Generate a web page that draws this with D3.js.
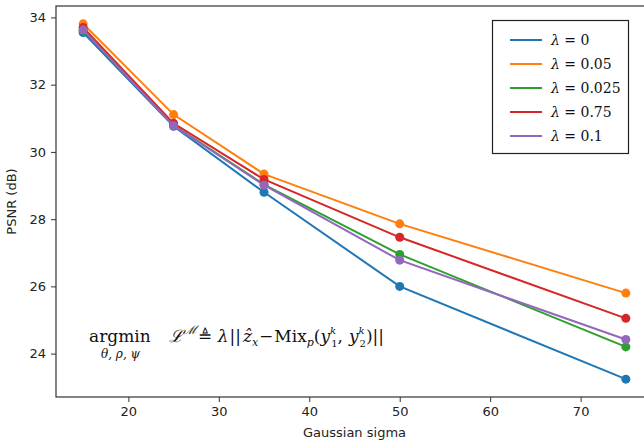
<!DOCTYPE html>
<html>
<head>
<meta charset="utf-8">
<script src="https://cdn.jsdelivr.net/npm/d3@7"></script>
<style>
  body { margin: 0; background: #fff; }
  text { font-family: "DejaVu Sans", sans-serif; }
  .math { font-family: "DejaVu Serif", "Liberation Serif", serif; }
</style>
</head>
<body>
<svg width="644" height="442"></svg>
<script>
// data
const sigma = [15, 25, 35, 50, 75];
const lam0 = [33.55, 30.76, 28.8, 26.0, 23.24];
const lam005 = [33.81, 31.11, 29.34, 27.86, 25.8];
const lam0025 = [33.62, 30.8, 29.03, 26.95, 24.2];
const lam075 = [33.7, 30.85, 29.18, 27.46, 25.05];
const lam01 = [33.63, 30.78, 29.01, 26.78, 24.42];
const labels = ["0", "0.05", "0.025", "0.75", "0.1"];
const colors = ["#1f77b4", "#ff7f0e", "#2ca02c", "#d62728", "#9467bd"];
const yTicks = [24, 26, 28, 30, 32, 34];
const xTicks = [20, 30, 40, 50, 60, 70];

const series = [lam0, lam005, lam0025, lam075, lam01];

const svg = d3.select("svg");
const mLeft = 56, mRight = 653, mTop = 6, mBottom = 397;

const x = d3.scaleLinear().domain([12, 78]).range([mLeft, mRight]);
const y = d3.scaleLinear().domain([22.71, 34.34]).range([mBottom, mTop]);

// axes
const xAxis = svg.append("g")
  .attr("transform", `translate(0,${mBottom})`)
  .call(d3.axisBottom(x).tickValues(xTicks).tickSize(5).tickPadding(5).tickSizeOuter(0));
const yAxis = svg.append("g")
  .attr("transform", `translate(${mLeft},0)`)
  .call(d3.axisLeft(y).tickValues(yTicks).tickSize(5).tickPadding(5).tickSizeOuter(0));

[xAxis, yAxis].forEach(a => {
  a.selectAll("text").style("font-size", "13px").attr("fill", "#222")
    .style("font-family", "DejaVu Sans, sans-serif");
  a.selectAll("line").attr("stroke", "#333");
  a.select(".domain").remove();
});

// frame (right side is cut off by the picture edge)
svg.append("rect")
  .attr("x", mLeft).attr("y", mTop)
  .attr("width", mRight - mLeft).attr("height", mBottom - mTop)
  .attr("fill", "none").attr("stroke", "#333").attr("stroke-width", 1.2);

// axis labels
svg.append("text")
  .attr("x", x(45)).attr("y", 437)
  .attr("text-anchor", "middle")
  .style("font-size", "13px").attr("fill", "#222")
  .text("Gaussian sigma");
svg.append("text")
  .attr("transform", `translate(16,${(mTop + mBottom) / 2}) rotate(-90)`)
  .attr("text-anchor", "middle")
  .style("font-size", "13px").attr("fill", "#222")
  .text("PSNR (dB)");

// lines + markers
const line = d3.line().x((d, i) => x(sigma[i])).y(d => y(d));
series.forEach((s, k) => {
  svg.append("path")
    .datum(s)
    .attr("d", line)
    .attr("fill", "none")
    .attr("stroke", colors[k])
    .attr("stroke-width", 2);
  svg.selectAll(".pt" + k)
    .data(s)
    .enter()
    .append("circle")
    .attr("cx", (d, i) => x(sigma[i]))
    .attr("cy", d => y(d))
    .attr("r", 4.5)
    .attr("fill", colors[k]);
});

// legend
const leg = svg.append("g");
leg.append("rect")
  .attr("x", 492.5).attr("y", 20.5)
  .attr("width", 136).attr("height", 133)
  .attr("fill", "#fff").attr("stroke", "#222").attr("stroke-width", 1.2);
labels.forEach((lb, k) => {
  const ly = 40 + k * 24;
  leg.append("line")
    .attr("x1", 510).attr("x2", 542)
    .attr("y1", ly).attr("y2", ly)
    .attr("stroke", colors[k]).attr("stroke-width", 2);
  const t = leg.append("text")
    .attr("class", "math")
    .attr("x", 551).attr("y", ly + 5)
    .style("font-size", "14px").attr("fill", "#111");
  t.append("tspan").style("font-style", "italic").text("λ");
  t.append("tspan").text(" = " + lb);
});

// formula annotation
const f = svg.append("text")
  .attr("class", "math")
  .attr("x", 89).attr("y", 342)
  .style("font-size", "17px").attr("fill", "#111");
const sp = (txt, opt) => {
  const t = f.append("tspan").text(txt);
  if (opt.dx) t.attr("dx", opt.dx);
  if (opt.dy) t.attr("dy", opt.dy);
  if (opt.size) t.style("font-size", opt.size + "px");
  if (opt.it) t.style("font-style", "italic");
  return t;
};
sp("argmin", {});
sp("ℒ", { dx: 18, it: true });
sp("ℳ", { dy: -8, size: 12, it: true });
sp("≜", { dx: 1, dy: 8 });
sp("λ", { dx: 6, it: true });
sp("||", { dx: 1 });
sp("ẑ", { dx: 2, it: true });
sp("x", { dy: 4, size: 11, it: true });
sp("−", { dx: 1, dy: -4 });
sp("Mix", { dx: 1 });
sp("p", { dy: 4, size: 11, it: true });
sp("(", { dy: -4 });
sp("y", { it: true });
sp("k", { dy: -8, size: 10, it: true });
sp("1", { dx: -5, dy: 13, size: 10 });
sp(",", { dy: -5 });
sp("y", { dx: 6, it: true });
sp("k", { dy: -8, size: 10, it: true });
sp("2", { dx: -5, dy: 13, size: 10 });
sp(")||", { dy: -5 });

svg.append("text")
  .attr("class", "math")
  .attr("x", 101).attr("y", 358)
  .style("font-size", "12px").style("font-style", "italic").attr("fill", "#111")
  .text("θ, ρ, ψ");
</script>
</body>
</html>
